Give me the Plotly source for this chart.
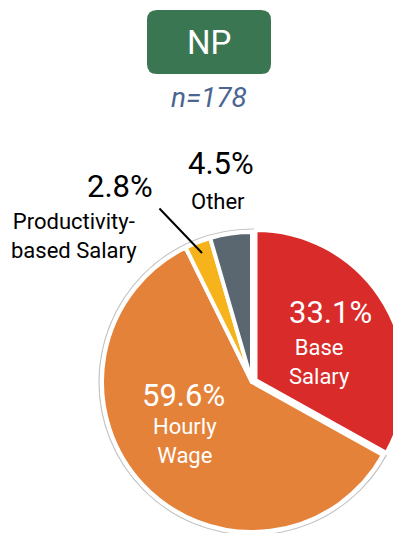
import plotly.graph_objects as go

# figure is a bit larger than the window; page body margin offsets it by 8px
W, H = 420, 560
OFF = 8

# ---- data ----
categories = ["Base Salary", "Hourly Wage", "Productivity-based Salary", "Other"]
values = [33.1, 59.6, 2.8, 4.5]
pct_labels = ["33.1%", "59.6%", "2.8%", "4.5%"]
name_labels = ["Base<br>Salary", "Hourly<br>Wage", "Productivity-<br>based Salary", "Other"]
group_label = "NP"
n_label = "n=178"

colors = ["#D92B29", "#E5823A", "#F6B31B", "#5A6670"]
FONT = "Roboto, sans-serif"


def px(x, y):
    """reference-window pixel -> paper coordinate"""
    return (x - OFF) / W, 1 - (y - OFF) / H


cx, cy = 252 - OFF, 382 - OFF
r = 150
pull = 0.027
d_front = r * (1 + pull)
d_back = r + 3

fig = go.Figure()
# light outline ring behind the pie
fig.add_trace(go.Pie(
    values=[1], labels=["outline"], sort=False, textinfo="none", hoverinfo="skip",
    marker=dict(colors=["white"], line=dict(color="#c4c4c4", width=1.2)),
    domain=dict(x=[(cx - d_back) / W, (cx + d_back) / W],
                y=[1 - (cy + d_back) / H, 1 - (cy - d_back) / H]),
    showlegend=False,
))
fig.add_trace(go.Pie(
    values=values, labels=categories, sort=False, direction="clockwise", rotation=0,
    textinfo="none", hoverinfo="label+percent",
    pull=[pull, 0, 0, 0],
    marker=dict(colors=colors, line=dict(color="white", width=4)),
    domain=dict(x=[(cx - d_front) / W, (cx + d_front) / W],
                y=[1 - (cy + d_front) / H, 1 - (cy - d_front) / H]),
    showlegend=False,
))

ann = []


def text(x, y, s, size, color, italic=False):
    ax, ay = px(x, y)
    ann.append(dict(x=ax, y=ay, xref="paper", yref="paper", text=s, showarrow=False,
                    xanchor="center", yanchor="middle",
                    font=dict(family=FONT, size=size, color=color,
                              style="italic" if italic else "normal")))


# header
text(209, 42, group_label, 33, "white")
text(209, 97, n_label, 28, "#4A6590", italic=True)

# slice labels
text(330, 312, pct_labels[0], 31, "white")
text(319, 362, name_labels[0], 22, "white")
text(183, 395, pct_labels[1], 31, "white")
text(185, 441, name_labels[1], 22, "white")
text(120, 186, pct_labels[2], 31, "black")
text(74, 236, name_labels[2], 22, "black")
text(221, 163, pct_labels[3], 31, "black")
text(218, 201, name_labels[3], 22, "black")

# leader line for the small slice
x0, y0 = px(202, 253)
ann.append(dict(x=x0, y=y0, xref="paper", yref="paper", ax=158 - 202, ay=207 - 253,
                axref="pixel", ayref="pixel", showarrow=True, arrowhead=0,
                arrowwidth=2, arrowcolor="black", text=""))

# rounded header box
bx0, by0, bx1, by1, rad = 147, 10, 271, 74, 10


def P(x, y):
    a, b = px(x, y)
    return f"{a:.5f},{b:.5f}"


path = (f"M {P(bx0 + rad, by0)} L {P(bx1 - rad, by0)} Q {P(bx1, by0)} {P(bx1, by0 + rad)} "
        f"L {P(bx1, by1 - rad)} Q {P(bx1, by1)} {P(bx1 - rad, by1)} "
        f"L {P(bx0 + rad, by1)} Q {P(bx0, by1)} {P(bx0, by1 - rad)} "
        f"L {P(bx0, by0 + rad)} Q {P(bx0, by0)} {P(bx0 + rad, by0)} Z")

fig.update_layout(
    width=W, height=H, margin=dict(l=0, r=0, t=0, b=0),
    paper_bgcolor="white", plot_bgcolor="white",
    annotations=ann,
    shapes=[dict(type="path", xref="paper", yref="paper", path=path,
                 fillcolor="#3B7652", line=dict(width=0), layer="below")],
)
fig.write_html("out.html")
